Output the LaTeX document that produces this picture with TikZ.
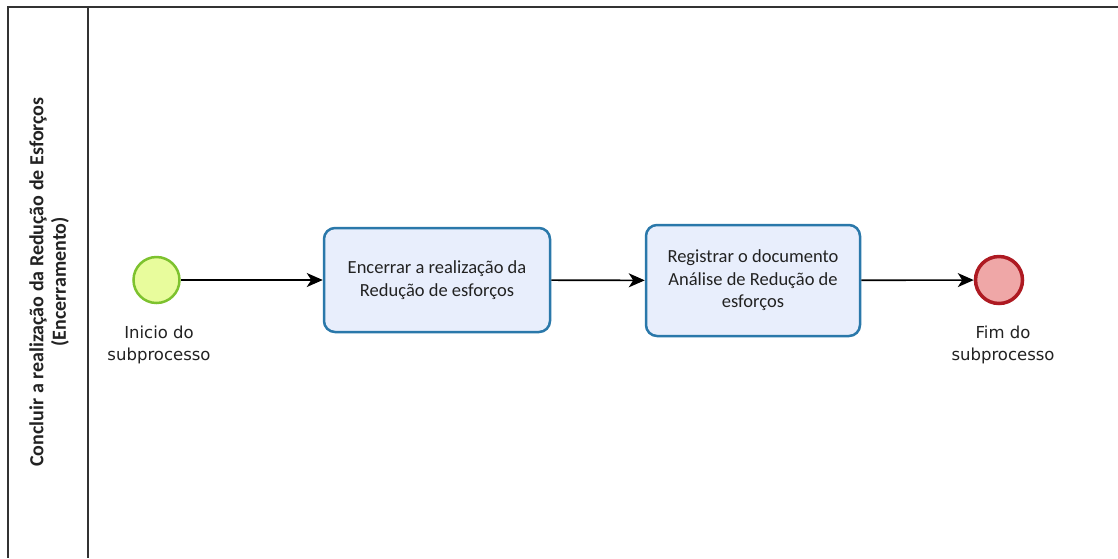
\documentclass[tikz,border=0pt]{standalone}
\usepackage{fontspec}
\setmainfont{Carlito}
\newfontfamily\labelfont{DejaVu Sans}
\usetikzlibrary{arrows.meta}
\definecolor{poolline}{HTML}{333333}
\definecolor{startfill}{HTML}{E8FC9C}
\definecolor{startdraw}{HTML}{7DC22E}
\definecolor{taskfill}{HTML}{E8EEFC}
\definecolor{taskdraw}{HTML}{2A78AA}
\definecolor{endfill}{HTML}{EFA7A7}
\definecolor{enddraw}{HTML}{AE1A22}
\definecolor{txt}{HTML}{222222}
\tikzset{
  poolborder/.style={draw=poolline, line width=2pt},
  startev/.style={circle, draw=startdraw, fill=startfill, line width=2.5pt, minimum size=46pt, inner sep=0pt},
  endev/.style={circle, draw=enddraw, fill=endfill, line width=3.5pt, minimum size=47pt, inner sep=0pt},
  taskbox/.style={rectangle, rounded corners=11pt, draw=taskdraw, fill=taskfill, line width=2.5pt, align=center, inner sep=0pt, font=\fontsize{18.5}{22.5}\selectfont, text=txt},
  evlabel/.style={align=center, font=\labelfont\fontsize{16.5}{22}\selectfont, text=txt},
  flow/.style={draw=black, line width=1.6pt, -{Stealth[length=16pt, width=14pt, inset=4.5pt]}},
}
\begin{document}
\begin{tikzpicture}[x=1pt, y=-1pt]
\useasboundingbox (0,0) rectangle (1118,558);
\fill[white] (0,0) rectangle (1118,558);
\coordinate (pTL) at (8,7);
\coordinate (pTR) at (1118,7);
\coordinate (pBL) at (8,558);
\coordinate (dT) at (88,7);
\coordinate (dB) at (88,558);
\draw[poolborder] (pTR) -- (pTL) -- (pBL);
\draw[poolborder] (dT) -- (dB);
\node[rotate=90, align=center, font=\bfseries\fontsize{20}{22.5}\selectfont, text=txt] (lane) at (49,282) {Concluir a realização da Redução de Esforços\\(Encerramento)};
\node[startev] (start) at (156.5,280) {};
\node[taskbox, minimum width=226pt, minimum height=104pt] (t1) at (437,280) {Encerrar a realização da\\Redução de esforços};
\node[taskbox, minimum width=214pt, minimum height=111pt] (t2) at (753,280.5) {Registrar o documento\\Análise de Redução de\\esforços};
\node[endev] (end) at (999,280) {};
\node[evlabel, anchor=north] (slab) at (159,322) {Inicio do\\subprocesso};
\node[evlabel, anchor=north] (elab) at (1003,322) {Fim do\\subprocesso};
\draw[flow] (start) -- (t1);
\draw[flow] (t1) -- (t2);
\draw[flow] (t2) -- (end);
\end{tikzpicture}
\end{document}
